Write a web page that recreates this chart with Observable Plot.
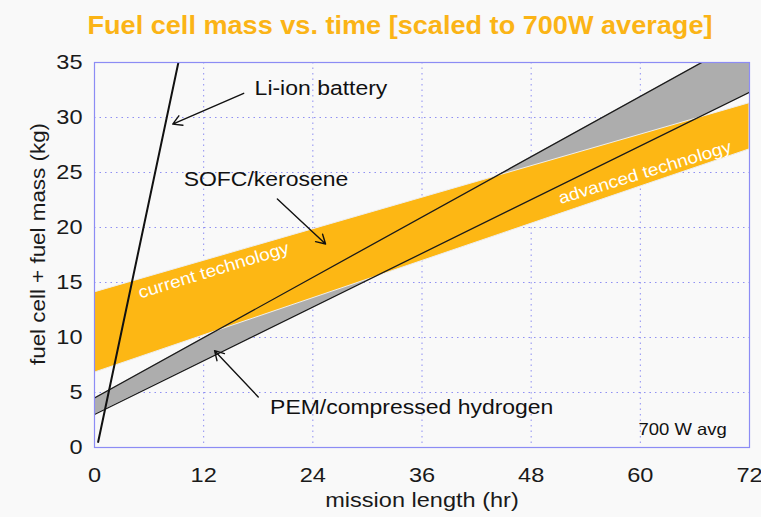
<!DOCTYPE html>
<html>
<head>
<meta charset="utf-8">
<script src="https://cdn.jsdelivr.net/npm/d3@7"></script>
<script src="https://cdn.jsdelivr.net/npm/@observablehq/plot@0.6"></script>
<style>
  html, body { margin: 0; padding: 0; background: #f9f9f9; }
  #title svg, #chart svg { display: block; }
</style>
</head>
<body>
<div id="title"></div>
<div id="chart"></div>
<script>
// ---- data ----
const titleText = "Fuel cell mass vs. time [scaled to 700W average]";
const hours = [0, 72];
const pemLower = [3.0, 32.3];
const pemUpper = [4.5, 37.4];
const sofcLower = [6.8, 27.1];
const sofcUpper = [14.1, 31.3];
const liionHours = [0.4, 9.4];
const liionMass = [0.5, 35.7];
const xTicks = [0, 12, 24, 36, 48, 60, 72];
const yTicks = [0, 5, 10, 15, 20, 25, 30, 35];

const labels = [
  {text: "Li-ion battery", x: 17.6, y: 32.6},
  {text: "SOFC/kerosene", x: 9.8, y: 24.4},
  {text: "PEM/compressed hydrogen", x: 19.3, y: 3.6}
];
const arrows = [
  {x1: 16.4, y1: 32.2, x2: 8.6, y2: 29.4},
  {x1: 20.1, y1: 22.6, x2: 25.4, y2: 18.5},
  {x1: 18.0, y1: 4.6, x2: 13.2, y2: 8.8}
];
const bandLabels = [
  {text: "current technology", x: 13.1, y: 16.1},
  {text: "advanced technology", x: 60.5, y: 25.0}
];
const note = [{text: "700 W avg", x: 69.5, y: 1.6}];

// ---- tables ----
const band = hours.map((h, i) => ({h, pl: pemLower[i], pu: pemUpper[i], sl: sofcLower[i], su: sofcUpper[i]}));
const liion = liionHours.map((h, i) => ({h, m: liionMass[i]}));

// ---- title ----
const tsvg = d3.select("#title").append("svg").attr("width", 761).attr("height", 44);
tsvg.append("text")
  .attr("x", 400).attr("y", 34)
  .attr("text-anchor", "middle")
  .attr("textLength", 625).attr("lengthAdjust", "spacingAndGlyphs")
  .attr("font-family", "'Liberation Sans Narrow', 'Liberation Sans', Arial, sans-serif")
  .attr("font-weight", "bold").attr("font-size", 26)
  .attr("fill", "#FBB416")
  .text(titleText);

// ---- chart ----
const blue = "#6c6cf0";
const chart = Plot.plot({
  width: 761,
  height: 473,
  marginTop: 18,
  marginBottom: 70,
  marginLeft: 94,
  marginRight: 12,
  style: {fontFamily: "'Liberation Sans', Arial, sans-serif", fontSize: "21px", background: "#f9f9f9", color: "#1a1a1a"},
  x: {domain: [0, 72], label: null},
  y: {domain: [0, 35], label: null},
  marks: [
    Plot.gridX(xTicks, {stroke: blue, strokeOpacity: 0.75, strokeDasharray: "1.5,4"}),
    Plot.gridY(yTicks, {stroke: blue, strokeOpacity: 0.75, strokeDasharray: "1.5,4"}),
    Plot.areaY(band, {x: "h", y1: "pl", y2: "pu", fill: "#adadad", clip: true}),
    Plot.areaY(band, {x: "h", y1: "sl", y2: "su", fill: "#FDB714", stroke: "#eeeeee", strokeWidth: 1, clip: true}),
    Plot.line(band, {x: "h", y: "pl", stroke: "#1a1a1a", strokeWidth: 1.3, clip: true}),
    Plot.line(band, {x: "h", y: "pu", stroke: "#1a1a1a", strokeWidth: 1.3, clip: true}),
    Plot.line(liion, {x: "h", y: "m", stroke: "#111", strokeWidth: 2, clip: true}),
    Plot.frame({stroke: "#8c8cf5", strokeWidth: 1.2}),
    Plot.axisX(xTicks, {tickSize: 0, tickPadding: 20, fontSize: 21}),
    Plot.axisY(yTicks, {tickSize: 0, tickPadding: 12, fontSize: 21}),
    Plot.text(["mission length (hr)"], {frameAnchor: "bottom", lineAnchor: "middle", dy: 53, fontSize: 21, fill: "#1a1a1a"}),
    Plot.text(["fuel cell + fuel mass (kg)"], {frameAnchor: "left", textAnchor: "middle", lineAnchor: "middle", rotate: -90, dx: -56, dy: -11, fontSize: 20, fill: "#1a1a1a"}),
    Plot.arrow(arrows, {x1: "x1", y1: "y1", x2: "x2", y2: "y2", stroke: "#111", strokeWidth: 1.4, headLength: 11}),
    Plot.text(labels, {x: "x", y: "y", text: "text", textAnchor: "start", fontSize: 20.5, fill: "#111"}),
    Plot.text(bandLabels, {x: "x", y: "y", text: "text", rotate: -17, fontSize: 17, fill: "white"}),
    Plot.text(note, {x: "x", y: "y", text: "text", textAnchor: "end", fontSize: 16.5, fill: "#111"})
  ]
});
document.getElementById("chart").appendChild(chart);

// widen glyphs slightly, as in the reference (horizontally stretched sans)
const stretch = 1.12;
d3.select(chart).selectAll("text").each(function() {
  if (this.querySelector("tspan")) return;
  const len = this.getComputedTextLength();
  if (len > 0) {
    this.setAttribute("textLength", (len * stretch).toFixed(1));
    this.setAttribute("lengthAdjust", "spacingAndGlyphs");
  }
});
</script>
</body>
</html>
